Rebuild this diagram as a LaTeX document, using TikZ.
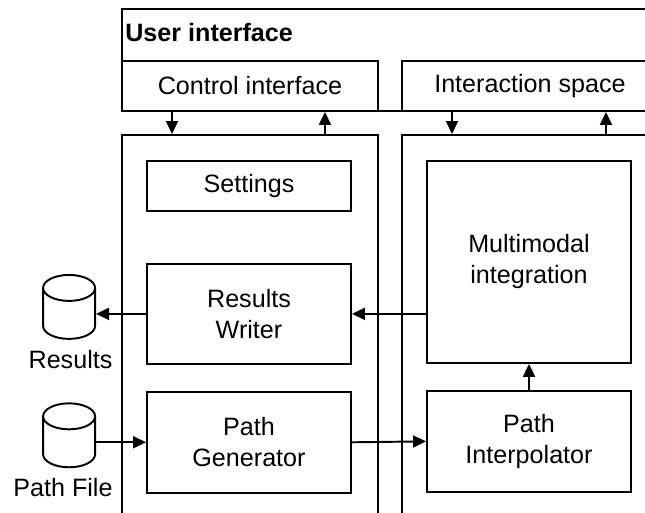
\documentclass[tikz,border=0pt]{standalone}
\usepackage{fontspec}
\setmainfont{Liberation Sans}
\usetikzlibrary{arrows.meta,positioning,shapes.geometric}

\tikzset{
  box/.style={draw, line width=1.1pt, rectangle, inner sep=0pt, align=center, minimum width=4.08cm},
  frame/.style={draw, line width=1.1pt, rectangle, inner sep=0pt, minimum width=5.12cm},
  store/.style={draw, line width=1.1pt, shape=cylinder, shape border rotate=90, aspect=0.5, inner sep=0pt},
  flow/.style={line width=1.1pt, -{Triangle[length=0.26cm,width=0.24cm]}},
}
\newcommand\storebox{\rule{1.04cm}{0pt}\rule{0pt}{0.48cm}}

\begin{document}
\begin{tikzpicture}[x=0.02cm,y=-0.02cm,font=\fontsize{14.3}{17.6}\selectfont]
    \useasboundingbox (0,0) rectangle (645,512);
    \clip (0,0) rectangle (645,512);

    % User interface
    \node[frame, minimum width=10.72cm, minimum height=2.04cm, anchor=north west] (ui) at (121,8) {};
    \node[anchor=west, inner sep=0pt] (uititle) at (125,33) {\bfseries User interface};
    \node[frame, minimum height=1cm, anchor=north west] (ctrl) at (121,60) {Control interface};
    \node[frame, minimum height=1cm, anchor=north west] (space) at (401,60) {Interaction space};

    % Columns (open at the bottom)
    \node[frame, minimum height=8.6cm, anchor=north west] (leftcol) at (121,134) {};
    \node[frame, minimum height=8.6cm, anchor=north west] (rightcol) at (401,134) {};

    % Left column
    \node[box, minimum height=1cm, anchor=north] (settings) at (249,160) {Settings};
    \node[box, minimum height=2cm, below=1.02cm of settings] (writer) {Results\\Writer};
    \node[box, minimum height=2.02cm, below=0.52cm of writer] (gen) {Path\\Generator};

    % Right column
    \node[box, minimum height=4.04cm, anchor=north] (multi) at (529,160) {Multimodal\\integration};
    \node[box, minimum height=2.02cm, below=0.52cm of multi] (interp) {Path\\Interpolator};

    % Files
    \node[store, left=1cm of writer] (results) {\storebox};
    \node[store, left=1cm of gen] (pathfile) {\storebox};
    \node (resultslbl) at (70.5,360) {Results};
    \node (pathfilelbl) at (63,488) {Path File};

    % Arrows
    \draw[flow] ([xshift=1.02cm]ctrl.south west) -- ([xshift=1.02cm]leftcol.north west);
    \draw[flow] ([xshift=4.08cm]leftcol.north west) -- ([xshift=4.08cm]ctrl.south west);
    \draw[flow] ([xshift=1.02cm]space.south west) -- ([xshift=1.02cm]rightcol.north west);
    \draw[flow] ([xshift=4.1cm]rightcol.north west) -- ([xshift=4.1cm]space.south west);
    \draw[flow] (multi.west |- writer.east) -- (writer.east);
    \draw[flow] (writer.west) -- (results.east);
    \draw[flow] (pathfile.east) -- (gen.west);
    \draw[flow] (gen.east) -- (interp.west);
    \draw[flow] (interp.north) -- (multi.south);

\end{tikzpicture}
\end{document}
